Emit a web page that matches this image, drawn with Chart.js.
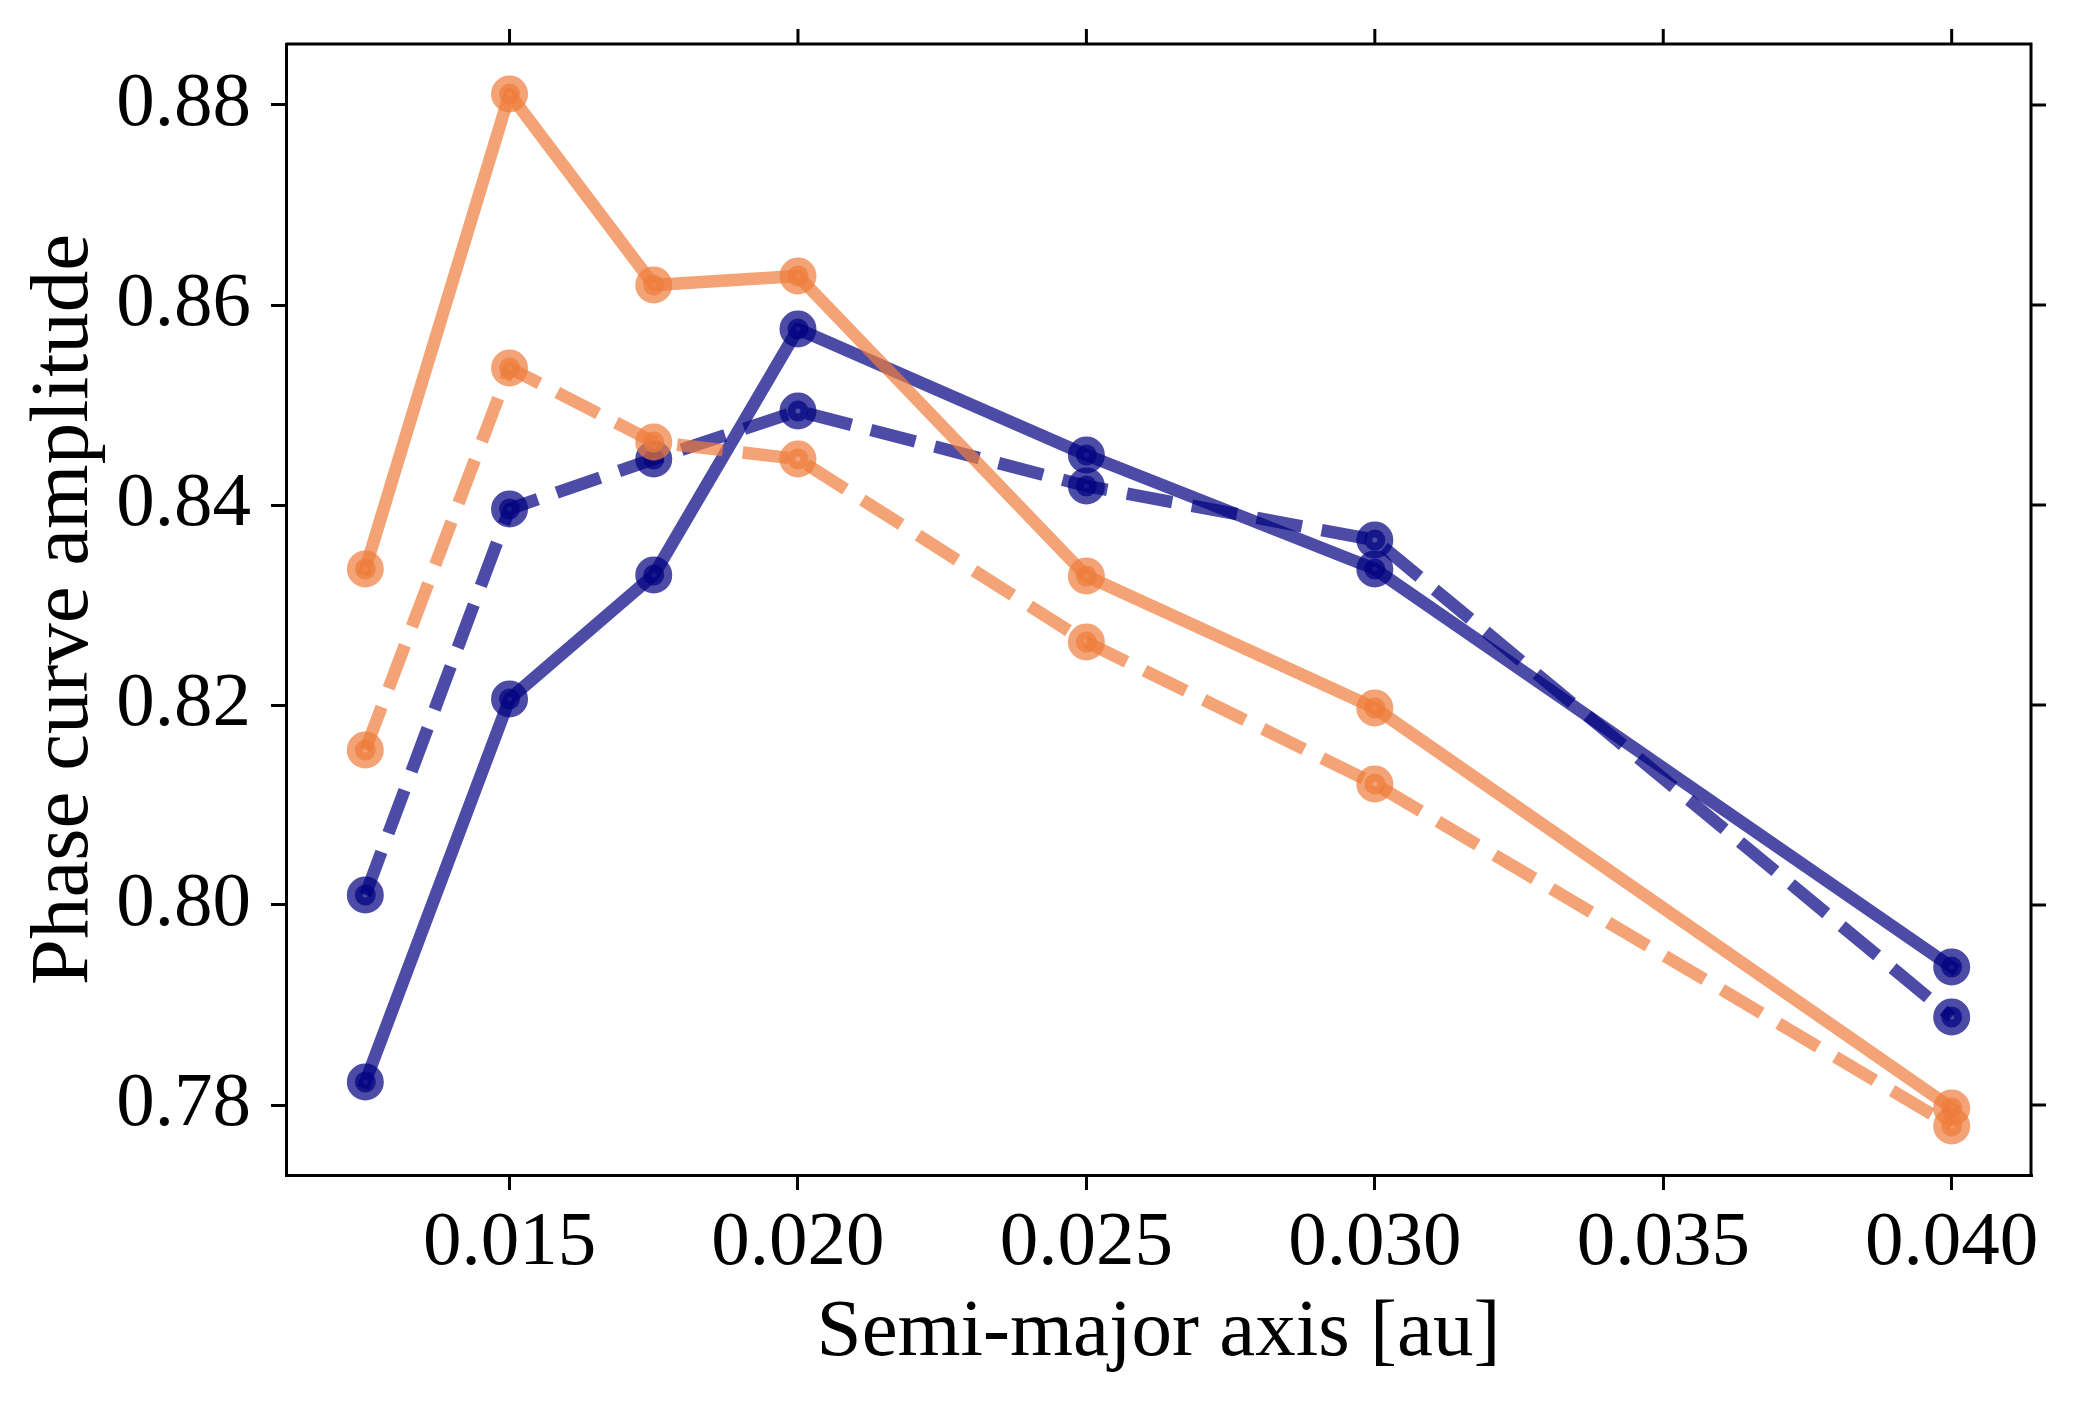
<!DOCTYPE html>
<html>
<head>
<meta charset="utf-8">
<script src="https://cdn.jsdelivr.net/npm/chart.js@4.4.7/dist/chart.umd.min.js"></script>
<style>
  html, body { margin: 0; padding: 0; background: #ffffff; }
  canvas { display: block; }
</style>
</head>
<body>
<canvas id="phaseChart" width="2074" height="1409"></canvas>
<script>
const semiMajorAxis = [0.0125, 0.015, 0.0175, 0.02, 0.025, 0.03, 0.04];
const orangeSolid = [0.8336, 0.8811, 0.8620, 0.8629, 0.8329, 0.8197, 0.7797];
const orangeDashed = [0.8155, 0.8537, 0.8463, 0.8446, 0.8263, 0.8121, 0.7779];
const blueSolid = [0.7823, 0.8206, 0.8330, 0.8576, 0.8450, 0.8336, 0.7938];
const blueDashed = [0.8010, 0.8396, 0.8446, 0.8494, 0.8419, 0.8365, 0.7888];
const xTicks = [0.015, 0.020, 0.025, 0.030, 0.035, 0.040];
const yTicks = [0.78, 0.80, 0.82, 0.84, 0.86, 0.88];

const orange = "rgba(238, 124, 58, 0.7)";
const navy = "rgba(0, 0, 128, 0.7)";
const fontFamily = "'Liberation Serif', 'DejaVu Serif', serif";

function toPoints(values) {
  return values.map((y, i) => ({ x: semiMajorAxis[i], y }));
}

function series(values, color, dashed) {
  return {
    data: toPoints(values),
    borderColor: color,
    backgroundColor: color,
    borderWidth: 12.5,
    borderDash: dashed ? [46, 20] : [],
    borderJoinStyle: "round",
    borderCapStyle: dashed ? "butt" : "square",
    pointRadius: 10.5,
    pointBorderWidth: 16,
    pointBackgroundColor: color,
    pointBorderColor: color,
    tension: 0,
  };
}

// ticks on top and right side, plus the closing frame lines
const mirrorFrame = {
  id: "mirrorFrame",
  afterDraw(chart) {
    const { ctx, chartArea, scales } = chart;
    const tick = 15;
    ctx.save();
    ctx.strokeStyle = "#000000";
    ctx.lineWidth = 3;
    ctx.beginPath();
    ctx.moveTo(chartArea.left, chartArea.top);
    ctx.lineTo(chartArea.right, chartArea.top);
    ctx.lineTo(chartArea.right, chartArea.bottom);
    xTicks.forEach((v) => {
      const x = scales.x.getPixelForValue(v);
      ctx.moveTo(x, chartArea.top);
      ctx.lineTo(x, chartArea.top - tick);
    });
    yTicks.forEach((v) => {
      const y = scales.y.getPixelForValue(v);
      ctx.moveTo(chartArea.right, y);
      ctx.lineTo(chartArea.right + tick, y);
    });
    ctx.stroke();
    ctx.restore();
  },
};

new Chart(document.querySelector("#phaseChart"), {
  type: "line",
  data: {
    datasets: [
      series(orangeSolid, orange, false),
      series(orangeDashed, orange, true),
      series(blueSolid, navy, false),
      series(blueDashed, navy, true),
    ],
  },
  options: {
    responsive: false,
    animation: false,
    layout: {
      padding: { left: 0, top: 44, right: 43, bottom: 0 },
    },
    plugins: {
      legend: { display: false },
      tooltip: { enabled: false },
    },
    scales: {
      x: {
        type: "linear",
        min: 0.011125,
        max: 0.041375,
        afterFit(scale) {
          scale.height = 234;
          scale.paddingLeft = 0;
          scale.paddingRight = 0;
        },
        afterBuildTicks(scale) {
          scale.ticks = xTicks.map((value) => ({ value }));
        },
        grid: {
          display: true,
          drawOnChartArea: false,
          drawTicks: true,
          tickLength: 15,
          color: "#000000",
          lineWidth: 3,
        },
        border: { display: true, color: "#000000", width: 3 },
        ticks: {
          color: "#000000",
          padding: 8,
          maxRotation: 0,
          font: { family: fontFamily, size: 77 },
          callback: (value) => Number(value).toFixed(3),
        },
        title: {
          display: true,
          text: "Semi-major axis [au]",
          color: "#000000",
          font: { family: fontFamily, size: 81 },
          padding: { top: 0, bottom: 27 },
        },
      },
      y: {
        type: "linear",
        min: 0.773,
        max: 0.8861,
        afterFit(scale) {
          scale.width = 286;
          scale.paddingTop = 0;
          scale.paddingBottom = 0;
        },
        afterBuildTicks(scale) {
          scale.ticks = yTicks.map((value) => ({ value }));
        },
        grid: {
          display: true,
          drawOnChartArea: false,
          drawTicks: true,
          tickLength: 15,
          color: "#000000",
          lineWidth: 3,
        },
        border: { display: true, color: "#000000", width: 3 },
        ticks: {
          color: "#000000",
          padding: 20,
          font: { family: fontFamily, size: 77 },
          callback: (value) => Number(value).toFixed(2),
        },
        title: {
          display: true,
          text: "Phase curve amplitude",
          color: "#000000",
          font: { family: fontFamily, size: 83 },
          padding: { top: 15, bottom: 0 },
        },
      },
    },
  },
  plugins: [mirrorFrame],
});
</script>
</body>
</html>
